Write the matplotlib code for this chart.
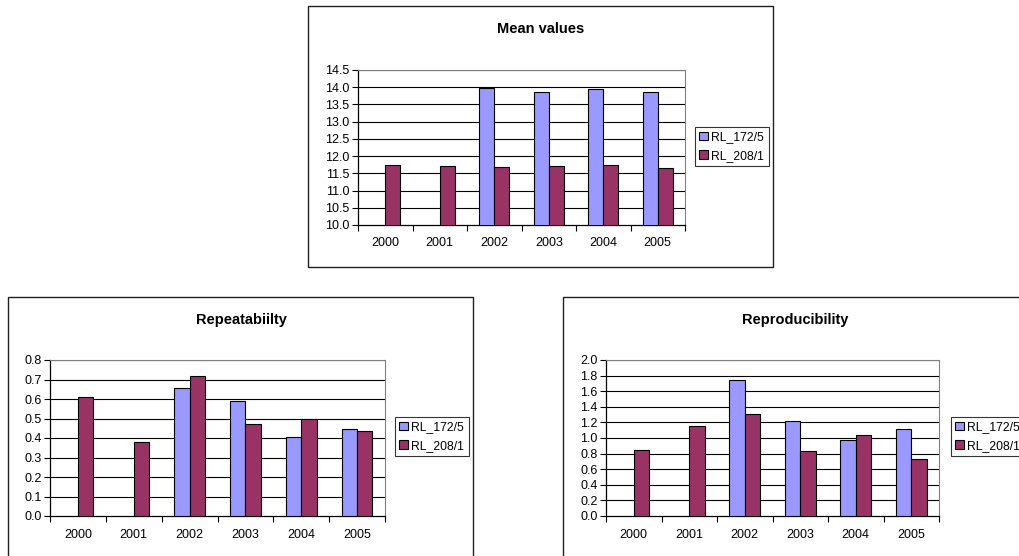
import numpy as np
import matplotlib
matplotlib.use("Agg")
import matplotlib.pyplot as plt
from matplotlib.patches import Rectangle

plt.rcParams['font.family'] = ['Liberation Sans', 'DejaVu Sans']

years = ["2000", "2001", "2002", "2003", "2004", "2005"]
series_names = ["RL_172/5", "RL_208/1"]

mean_172 = [np.nan, np.nan, 13.98, 13.86, 13.96, 13.86]
mean_208 = [11.75, 11.72, 11.69, 11.72, 11.75, 11.66]

rep_172 = [np.nan, np.nan, 0.655, 0.591, 0.407, 0.444]
rep_208 = [0.609, 0.379, 0.718, 0.470, 0.496, 0.436]

repro_172 = [np.nan, np.nan, 1.744, 1.222, 0.970, 1.111]
repro_208 = [0.846, 1.150, 1.308, 0.833, 1.038, 0.726]

BLUE = "#9999FF"
PLUM = "#993366"
W, H = 1019, 556

fig = plt.figure(figsize=(W / 100, H / 100), dpi=100)
fig.patch.set_facecolor("white")


def frame(x0, y0, x1, y1):
    # chart border, given in pixels from the top left corner
    fig.patches.append(Rectangle((x0 / W, 1 - y1 / H), (x1 - x0) / W, (y1 - y0) / H,
                                 transform=fig.transFigure, fill=False,
                                 edgecolor="#202020", lw=1.0))


def bar_chart(box, s1, s2, ymin, ymax, step, title, title_xy, leg_xy):
    x0, y0, x1, y1 = box
    ax = fig.add_axes([x0 / W, 1 - y1 / H, (x1 - x0) / W, (y1 - y0) / H])
    pos = np.arange(len(years)) + 0.5
    bw = 0.275
    ax.bar(pos - bw / 2, s1, bw, color=BLUE, edgecolor="black", lw=0.8,
           label=series_names[0], zorder=3)
    ax.bar(pos + bw / 2, s2, bw, color=PLUM, edgecolor="black", lw=0.8,
           label=series_names[1], zorder=3)
    ax.set_xlim(0, len(years))
    ax.set_ylim(ymin, ymax)
    yt = np.arange(ymin, ymax + step / 2, step)
    ax.set_yticks(yt)
    ax.set_yticklabels(["%.1f" % v for v in yt])
    for v in yt[1:]:
        ax.axhline(v, color="black", lw=0.8, zorder=1)
    # ticks between categories, labels under the centres
    ax.set_xticks(np.arange(len(years) + 1))
    ax.set_xticklabels([])
    ax.set_xticks(pos, minor=True)
    ax.set_xticklabels(years, minor=True)
    ax.tick_params(axis="x", which="major", direction="out", length=4, width=0.8)
    ax.tick_params(axis="x", which="minor", length=0, pad=9, labelsize=9)
    ax.tick_params(axis="y", direction="out", length=4, width=0.8, labelsize=9, pad=2)
    for s in ("top", "right"):
        ax.spines[s].set_color("#808080")
        ax.spines[s].set_linewidth(0.8)
    for s in ("left", "bottom"):
        ax.spines[s].set_color("black")
        ax.spines[s].set_linewidth(0.9)
    fig.text(title_xy[0] / W, 1 - title_xy[1] / H, title, ha="center", va="center",
             fontsize=10.5, fontweight="bold")
    ax.legend(loc="upper left", bbox_to_anchor=(leg_xy[0] / W, 1 - leg_xy[1] / H),
              bbox_transform=fig.transFigure, fontsize=8.8, frameon=True,
              fancybox=False, edgecolor="black", handlelength=0.7,
              handleheight=0.7, handletextpad=0.3, borderpad=0.35,
              labelspacing=0.55, borderaxespad=0)
    ax.get_legend().get_frame().set_linewidth(0.8)
    return ax


frame(308, 6, 773, 267)
frame(8, 297, 473, 580)
frame(563, 297, 1040, 580)

bar_chart((358, 70, 685, 225), mean_172, mean_208, 10.0, 14.5, 0.5,
          "Mean values", (541, 29), (695, 127))
bar_chart((50, 360, 385, 516), rep_172, rep_208, 0.0, 0.8, 0.1,
          "Repeatabiilty", (241, 320), (395, 417))
bar_chart((606, 360, 939, 516), repro_172, repro_208, 0.0, 2.0, 0.2,
          "Reproducibility", (795, 320), (951, 417))

fig.savefig("out.png", dpi=100, facecolor="white")
